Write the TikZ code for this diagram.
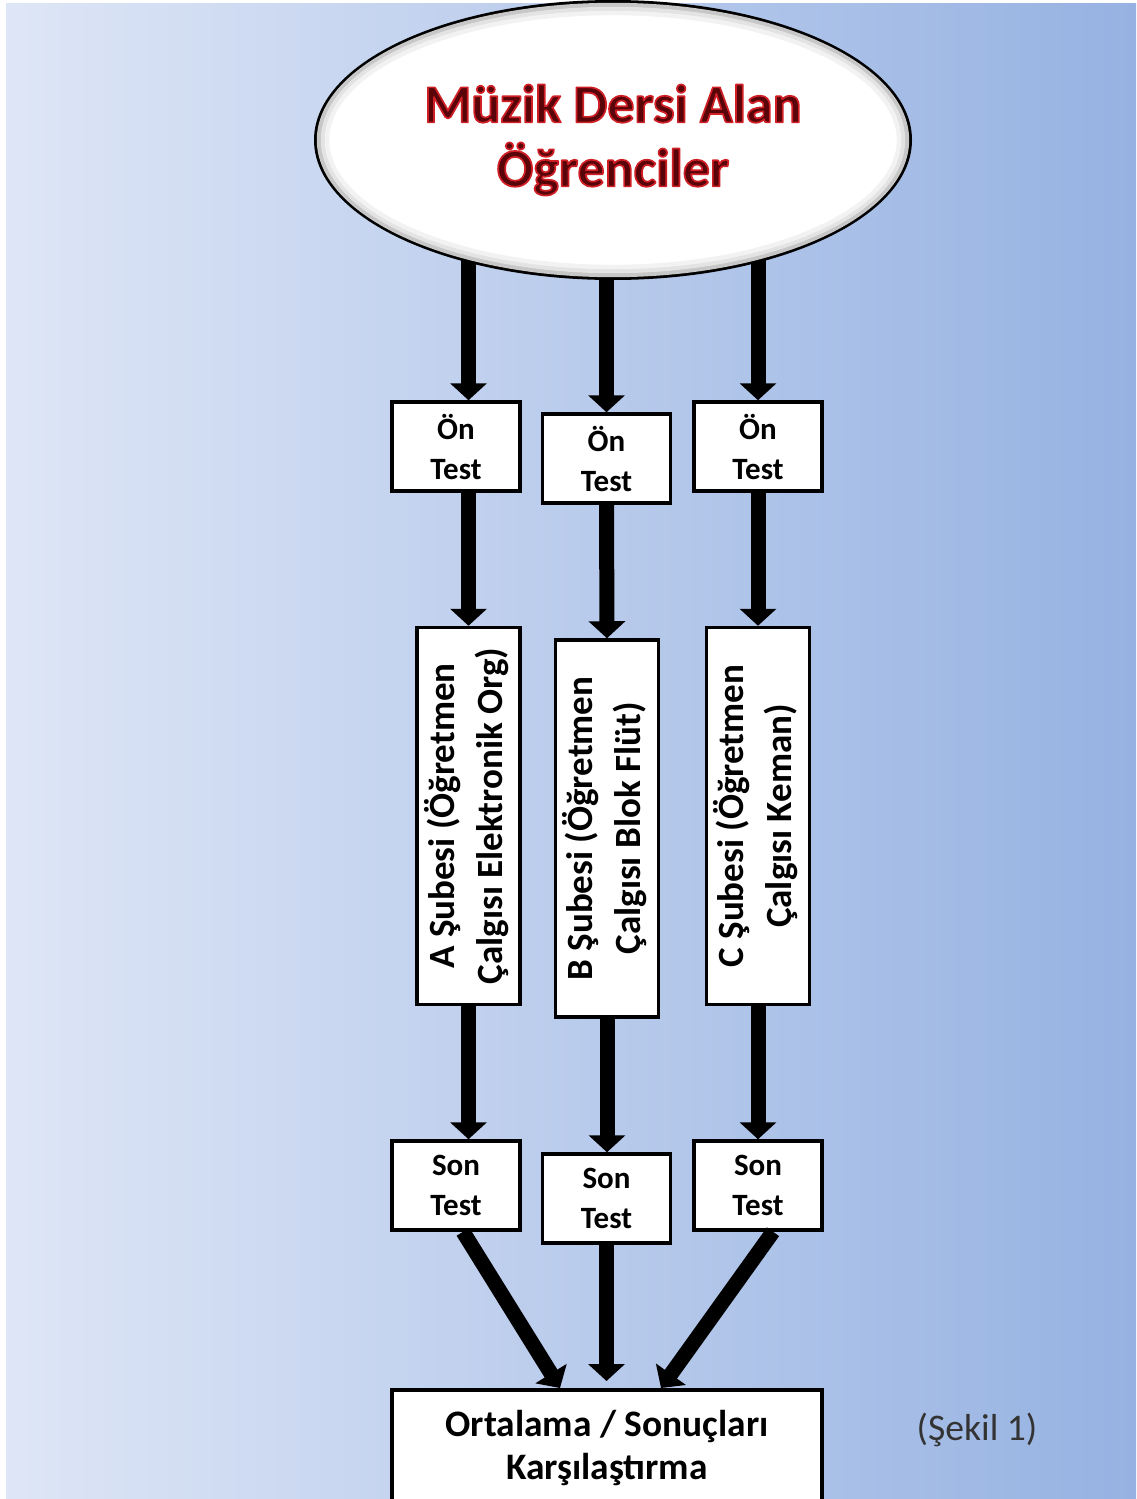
\documentclass[tikz,border=0pt]{standalone}
\usepackage{fontspec}
\setmainfont{Carlito}
\usetikzlibrary{shapes.geometric}
\usetikzlibrary{arrows.meta,backgrounds}
\definecolor{bgleft}{RGB}{222,230,246}
\definecolor{bgright}{RGB}{150,178,226}
\definecolor{titlered}{RGB}{88,4,8}
% red rim round the title letters (fill, then stroke)
\newcommand\redrim[1]{\special{pdf:literal direct 0.82 0.12 0.15 RG 0.85 w 1 j 2 Tr}#1\special{pdf:literal direct 0 Tr}}
\tikzset{
  oval/.style={
    % The shape:
    shape=ellipse,minimum width=297pt,minimum height=138pt,inner sep=0pt,
    % The border:
    line width=2pt,draw=black,
    % The filling:
    fill=white}}
\tikzset{
  titletext/.style={
    align=center,text=titlered,font=\bfseries\fontsize{27}{32}\selectfont}}
\tikzset{
  testbox/.style={
    % The shape:
    rectangle,minimum width=64pt,minimum height=44.5pt,inner sep=0pt,
    % The rest
    line width=1.75pt,draw=black,fill=white,
    align=center,font=\bfseries\fontsize{15.5}{20}\selectfont}}
\tikzset{
  subebox/.style={
    rectangle,minimum width=51.5pt,minimum height=188.5pt,inner sep=0pt,
    line width=1.75pt,draw=black,fill=white,
    font=\bfseries\fontsize{18.5}{24}\selectfont}}
\tikzset{
  resultbox/.style={
    rectangle,minimum width=215pt,minimum height=58.5pt,inner sep=0pt,
    line width=2pt,draw=black,fill=white,
    align=center,font=\bfseries\fontsize{18.7}{21.5}\selectfont}}
\tikzset{
  bigarrow/.style={-{Triangle[width=18pt,length=8.5pt]},line width=7.5pt,black}}

\begin{document}
\begin{tikzpicture}[x=0.5pt,y=-0.5pt]
	\useasboundingbox (0,0) rectangle (1136,1499);
	% Background
	\begin{scope}[on background layer]
		\fill[white] (0,0) rectangle (1136,1499);
		\shade[left color=bgleft,right color=bgright] (6,3) rectangle (1136,1499);
	\end{scope}
	% The groups
	\node[oval] (title) at (613,140) {};
	\foreach \r/\c in {1.5/22,3.5/11,5.5/5}
		\draw[black!\c,line width=2.2pt] (title.center) ellipse [x radius=148.5pt-\r pt,y radius=69pt-\r pt];
	\node[titletext] (titlelabel) at (title.center) {\redrim{Müzik Dersi Alan}\\\redrim{Öğrenciler}};
	% Pre tests
	\node[testbox] (onA) at (456,446.5) {Ön\\Test};
	\node[testbox] (onB) at (606.5,458.5) {Ön\\Test};
	\node[testbox] (onC) at (758,446.5) {Ön\\Test};
	% Classes
	\node[subebox] (subeA) at (468.5,816) {\rotatebox{90}{\begin{tabular}{@{}c@{}}A Şubesi (Öğretmen\\Çalgısı Elektronik Org)\end{tabular}}};
	\node[subebox] (subeB) at (607,828.5) {\rotatebox{90}{\begin{tabular}{@{}c@{}}B Şubesi (Öğretmen\\Çalgısı Blok Flüt)\end{tabular}}};
	\node[subebox] (subeC) at (758,816) {\rotatebox{90}{\begin{tabular}{@{}c@{}}C Şubesi (Öğretmen\\Çalgısı Keman)\end{tabular}}};
	% Post tests
	\node[testbox] (sonA) at (456,1185.5) {Son\\Test};
	\node[testbox] (sonB) at (606.5,1198.5) {Son\\Test};
	\node[testbox] (sonC) at (758,1185.5) {Son\\Test};
	% Result
	\node[resultbox] (ort) at (607,1448.5) {Ortalama / Sonuçları\\Karşılaştırma};
	\node[font=\fontsize{18.8}{22}\selectfont,text=black!80] (sekil) at (977,1430) {(Şekil 1)};
	% Lines out of the title
	\begin{scope}[on background layer]
		\draw[bigarrow] (subeA |- title.center) -- (subeA |- onA.north);
		\draw[bigarrow] (onB |- title.center) -- (onB.north);
		\draw[bigarrow] (onC |- title.center) -- (onC.north);
	\end{scope}
	% Lines out of the pre tests
	\draw[bigarrow] (subeA |- onA.south) -- (subeA.north);
	\draw[bigarrow] (onB.south) -- (subeB.north);
	\draw[bigarrow] (onC.south) -- (subeC.north);
	% Lines out of the classes
	\draw[bigarrow] (subeA.south) -- (subeA |- sonA.north);
	\draw[bigarrow] (subeB.south) -- (subeB |- sonB.north);
	\draw[bigarrow] (subeC.south) -- (sonC.north);
	% Lines out of the post tests
	\draw[bigarrow] ([xshift=3.5pt]sonA.south) -- ([xshift=-23.5pt]ort.north);
	\draw[bigarrow] (sonB.south) -- ([yshift=3.5pt]sonB.south |- ort.north);
	\draw[bigarrow] ([xshift=7.5pt]sonC.south) -- ([xshift=27pt]ort.north);
\end{tikzpicture}
\end{document}
